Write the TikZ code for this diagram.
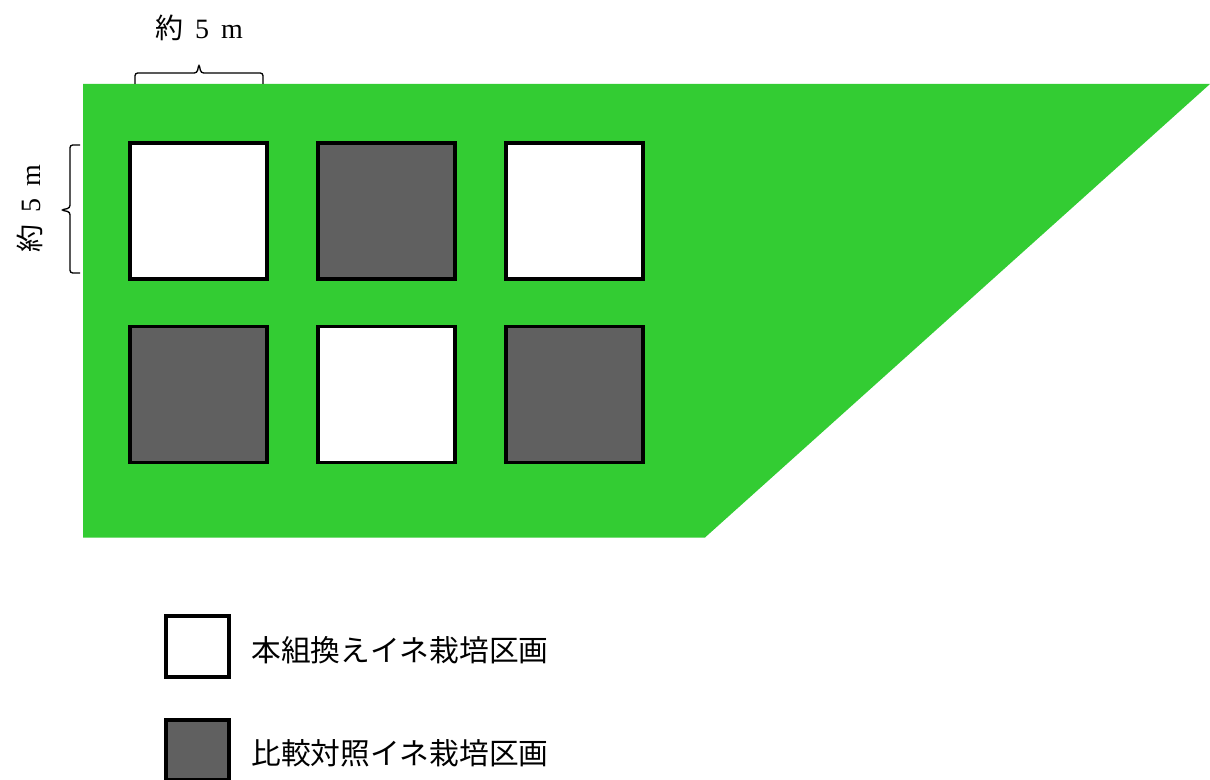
\documentclass[tikz,border=0pt]{standalone}
\usepackage{fontspec}
\setmainfont{Liberation Serif}
\newfontfamily\jp{Noto Sans CJK JP}
\definecolor{fieldgreen}{HTML}{33CC33}
\definecolor{plotgray}{HTML}{606060}
\begin{document}
\begin{tikzpicture}[x=0.75pt,y=-0.75pt,
  plotbox/.style={draw=black,line width=2.6pt,minimum width=102.75pt,minimum height=102pt,inner sep=0pt,outer sep=0pt},
  legbox/.style={draw=black,line width=2.8pt,minimum width=47pt,minimum height=45.5pt,inner sep=0pt,outer sep=0pt},
  gm/.style={plotbox,fill=white},
  ctl/.style={plotbox,fill=plotgray},
  legtext/.style={anchor=west,inner sep=0pt,font=\jp\fontsize{22.3pt}{26pt}\selectfont},
  dimtext/.style={inner sep=0pt,font=\fontsize{21pt}{24pt}\selectfont},
  bracket/.style={draw=black,line width=1pt,rounded corners=2pt}]
\useasboundingbox (0,0) rectangle (1210,780);
% field
\fill[fieldgreen] (83,84) -- (1210,84) -- (705,537.5) -- (83,537.5) -- cycle;
% plots
\node[gm]  (p11) at (198.5,211) {};
\node[ctl] (p12) at (386.5,211) {};
\node[gm]  (p13) at (574.5,211) {};
\node[ctl] (p21) at (198.5,394.5) {};
\node[gm]  (p22) at (386.5,394.5) {};
\node[ctl] (p23) at (574.5,394.5) {};
% top dimension
\draw[bracket] (135,84) -- (135,73) -- (197,73) -- (199,64) -- (201,73) -- (263,73) -- (263,84);
\node[dimtext] (toplbl) at (199,28) {{\jp 約}\hspace{9pt}5\hspace{9pt}m};
% left dimension
\draw[bracket] (80,145) -- (70,145) -- (70,208) -- (61,210) -- (70,212) -- (70,273) -- (80,273);
\node[dimtext,rotate=90] (leftlbl) at (30,209) {{\jp 約}\hspace{9pt}5\hspace{9pt}m};
% legend
\node[legbox,fill=white] (lg1) at (197.5,646.5) {};
\node[legbox,fill=plotgray] (lg2) at (197.5,750) {};
\node[legtext] (lt1) at (251,650) {本組換えイネ栽培区画};
\node[legtext] (lt2) at (251,753) {比較対照イネ栽培区画};
\end{tikzpicture}
\end{document}
